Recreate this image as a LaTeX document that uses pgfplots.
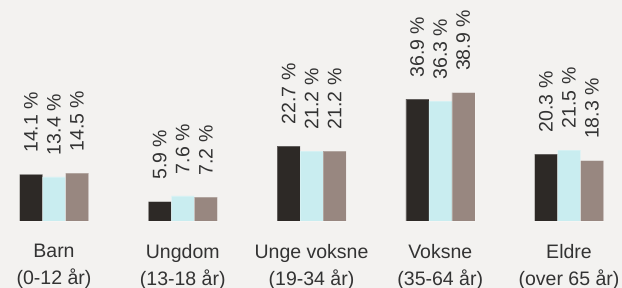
\documentclass[border=0pt]{standalone}
\usepackage{pgfplots}
\pgfplotsset{compat=1.18}
\usepackage{fontspec}
\setmainfont{Liberation Sans}
\definecolor{bg}{HTML}{F3F2F0}
\definecolor{cdark}{HTML}{2D2926}
\definecolor{ccyan}{HTML}{C9EDF0}
\definecolor{ctaupe}{HTML}{988780}
\definecolor{txt}{HTML}{333333}
\begin{document}
\begin{tikzpicture}
\path[use as bounding box, fill=bg] (0,0) rectangle (622pt,288pt);
\begin{axis}[
  at={(-10.375pt,67pt)}, anchor=south west,
  x=128.75pt, y=3.3pt,
  xmin=-0.5, xmax=4.5, ymin=0, ymax=67,
  axis line style={draw=none},
  major tick length=0pt,
  ymajorticks=false,
  xtick={0,1,2,3,4},
  xticklabels={{Barn\\(0-12 år)},{Ungdom\\(13-18 år)},{Unge voksne\\(19-34 år)},{Voksne\\(35-64 år)},{Eldre\\(over 65 år)}},
  xticklabel style={align=center, anchor=north, inner sep=0pt, yshift=-23pt, text=txt, font=\fontsize{19.5pt}{27pt}\selectfont},
  ybar=0pt, bar width=23pt,
  clip=false,
  nodes near coords={\pgfmathprintnumber[fixed,fixed zerofill,precision=1,assume math mode=true]{\pgfplotspointmeta}\ \%},
  every node near coord/.append style={yshift=21.5pt, rotate=90, anchor=west, inner sep=0pt, text=txt, font=\fontsize{19.5pt}{23pt}\selectfont},
]
\addplot[fill=cdark, draw=white, draw opacity=0.25, line width=0.5pt] coordinates {(0,14.1) (1,5.9) (2,22.7) (3,36.9) (4,20.3)};
\addplot[fill=ccyan, draw=white, draw opacity=0.25, line width=0.5pt] coordinates {(0,13.4) (1,7.6) (2,21.2) (3,36.3) (4,21.5)};
\addplot[fill=ctaupe, draw=white, draw opacity=0.25, line width=0.5pt] coordinates {(0,14.5) (1,7.2) (2,21.2) (3,38.9) (4,18.3)};
\end{axis}
\end{tikzpicture}
\end{document}
